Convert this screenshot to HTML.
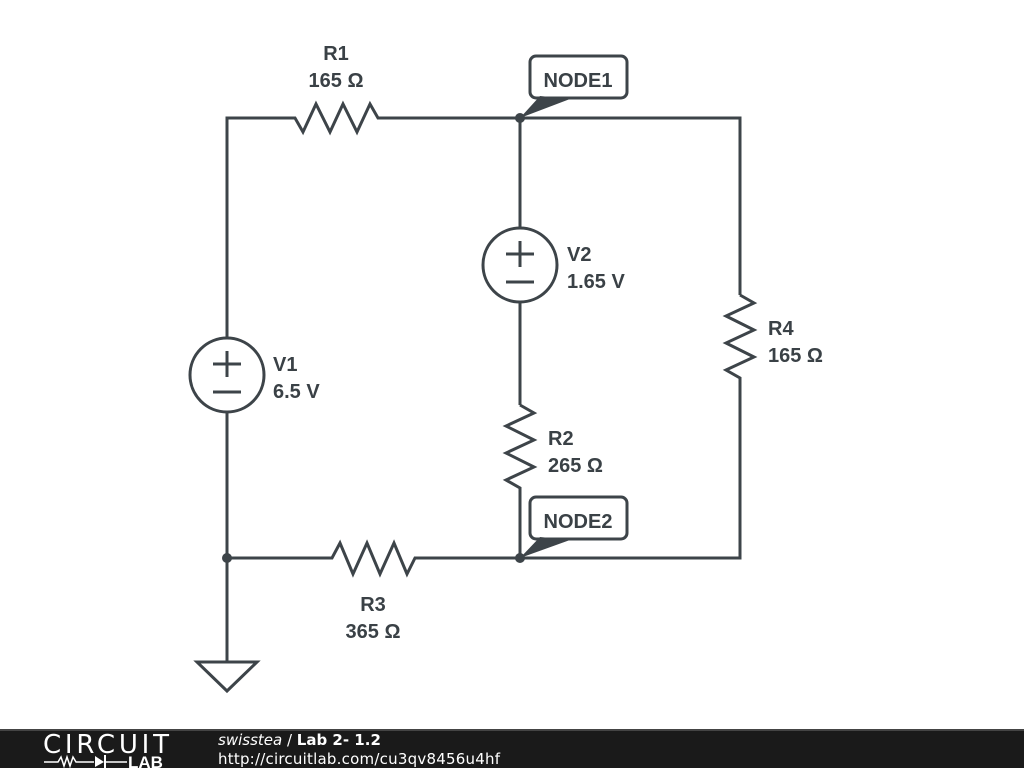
<!DOCTYPE html>
<html><head><meta charset="utf-8"><style>
html,body{margin:0;padding:0;background:#fff;width:1024px;height:768px;overflow:hidden}
svg{display:block}
text{font-family:"Liberation Sans",sans-serif;font-weight:bold;fill:#3a4146}
</style></head><body>
<svg width="1024" height="768" viewBox="0 0 1024 768">
<g stroke="#3d4449" stroke-width="3" fill="none" stroke-linejoin="miter">
<polyline points="227,338 227,118 295,118 303,132 316,104 330,132 343,104 357,132 370,104 378,118 740,118 740,295"/>
<polyline points="740,295 754,303 726,316 754,330 726,343 754,357 726,370 740,378 740,558 520,558"/>
<line x1="520" y1="118" x2="520" y2="228"/>
<circle cx="520" cy="265" r="37"/>
<line x1="520" y1="302" x2="520" y2="405"/>
<polyline points="520,405 534,413 506,426 534,440 506,453 534,467 506,480 520,488 520,558"/>
<polyline points="520,558 415,558 407,574 394,543 380,574 367,543 353,574 340,543 332,558 227,558"/>
<circle cx="227" cy="375" r="37"/>
<line x1="227" y1="412" x2="227" y2="662"/>
<polygon points="197,662 257,662 227,691"/>
<line x1="213" y1="364" x2="241" y2="364"/><line x1="227" y1="351" x2="227" y2="377"/>
<line x1="213" y1="392" x2="241" y2="392"/>
<line x1="506" y1="254" x2="534" y2="254"/><line x1="520" y1="241" x2="520" y2="267"/>
<line x1="506" y1="282" x2="534" y2="282"/>
<rect x="530" y="56" width="97" height="42" rx="6" fill="#fff"/>
<rect x="530" y="497" width="97" height="42" rx="6" fill="#fff"/>
</g>
<g fill="#3d4449">
<circle cx="227" cy="558" r="5"/><circle cx="520" cy="118" r="5"/><circle cx="520" cy="558" r="5"/>
<polygon points="520,118 540,96 570,99"/>
<polygon points="520,558 540,537 570,540"/>
</g>
<text x="578" y="87" font-size="20" text-anchor="middle">NODE1</text>
<text x="578" y="528" font-size="20" text-anchor="middle">NODE2</text>
<g font-size="20">
<text x="336" y="60" text-anchor="middle">R1</text>
<text x="336" y="87" text-anchor="middle">165 Ω</text>
<text x="373" y="611" text-anchor="middle">R3</text>
<text x="373" y="638" text-anchor="middle">365 Ω</text>
<text x="273" y="371">V1</text>
<text x="273" y="398">6.5 V</text>
<text x="567" y="261">V2</text>
<text x="567" y="288">1.65 V</text>
<text x="768" y="335">R4</text>
<text x="768" y="362">165 Ω</text>
<text x="548" y="445">R2</text>
<text x="548" y="472">265 Ω</text>
</g>
<rect x="0" y="729" width="1024" height="39" fill="#1a1a1a"/>
<rect x="0" y="729" width="1024" height="2" fill="#444"/>
<text x="106" y="753" font-size="26" text-anchor="middle" textLength="126" style="font-family:'DejaVu Sans',sans-serif;font-weight:normal;fill:#fff">CIRCUIT</text>
<polyline points="44,762 58,762 61,757 64,766 67,757 70,766 73,757 76,762 94,762" stroke="#fff" stroke-width="1.5" fill="none"/>
<polygon points="95,756 95,767 104,762" fill="#fff"/><line x1="105" y1="755" x2="105" y2="768" stroke="#fff" stroke-width="2"/>
<line x1="106" y1="762" x2="127" y2="762" stroke="#fff" stroke-width="1.5"/>
<text x="128" y="768" font-size="17" style="fill:#fff">LAB</text>
<text x="218" y="745" font-size="15" style="font-family:'DejaVu Sans',sans-serif;fill:#fff;font-weight:normal"><tspan font-style="italic">swisstea</tspan> / <tspan font-weight="bold">Lab 2- 1.2</tspan></text>
<text x="218" y="764" font-size="15" textLength="282" style="font-family:'DejaVu Sans',sans-serif;fill:#fff;font-weight:normal">http://circuitlab.com/cu3qv8456u4hf</text>
</svg>
</body></html>
